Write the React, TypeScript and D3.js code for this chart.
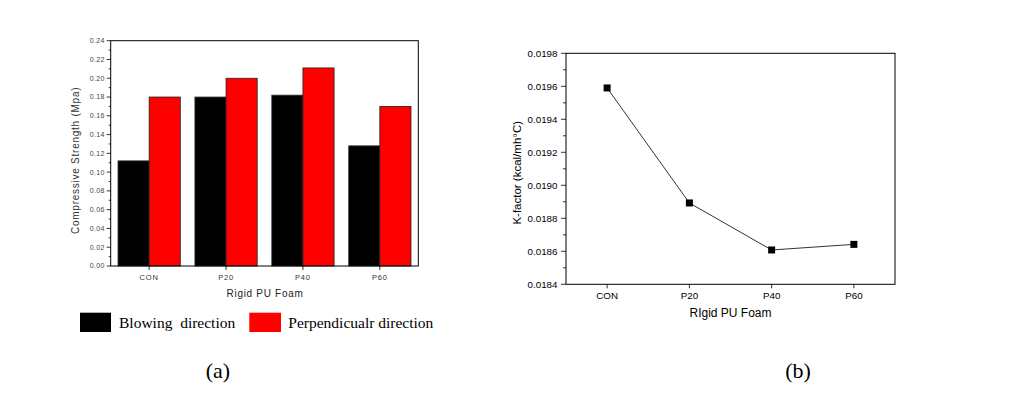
import React from "react";
import * as d3 from "d3";

const categories = ["CON", "P20", "P40", "P60"];
const blowing = [0.112, 0.18, 0.182, 0.128];
const perpendicular = [0.18, 0.2, 0.211, 0.17];
const barTicks = [0, 0.02, 0.04, 0.06, 0.08, 0.1, 0.12, 0.14, 0.16, 0.18, 0.2, 0.22, 0.24];
const kFactor = [0.01959, 0.018893, 0.018608, 0.018642];
const kTicks = [0.0184, 0.0186, 0.0188, 0.019, 0.0192, 0.0194, 0.0196, 0.0198];
const seriesNames = ["Blowing  direction", "Perpendicualr direction"];
const seriesColors = ["#000000", "#ff0000"];

export default function App() {
  // Left chart (a)
  const aL = 110.7, aR = 418.3, aT = 40.7, aB = 266;
  const xa = d3.scaleBand().domain(categories).range([aL, aR]).paddingInner(0.19).paddingOuter(0.095);
  const xs = d3.scaleBand().domain(["b", "p"]).range([0, xa.bandwidth()]);
  const ya = d3.scaleLinear().domain([0, 0.24]).range([aB, aT]);
  const minorA = d3.range(0, 0.2401, 0.01);

  // Right chart (b)
  const bL = 566, bR = 895, bT = 53.3, bB = 284.3;
  const xb = d3.scalePoint().domain(categories).range([bL, bR]).padding(0.5);
  const yb = d3.scaleLinear().domain([0.0184, 0.0198]).range([bB, bT]);
  const minorB = d3.range(0.0184, 0.01981, 0.0001);
  const line = d3.line<number>().x((_, i) => xb(categories[i])!).y((d) => yb(d));

  const sans = "'Liberation Sans', Arial, sans-serif";
  const serif = "'Liberation Serif', 'Times New Roman', serif";

  return (
    <svg width={1034} height={403} style={{ position: "absolute", left: 0, top: 0, background: "#fff" }}>
      {/* ---------- (a) ---------- */}
      <g>
        {categories.map((c, i) => (
          <g key={c}>
            <rect x={xa(c)!} y={ya(blowing[i])} width={xs.bandwidth()} height={aB - ya(blowing[i])}
              fill={seriesColors[0]} stroke="#333" strokeWidth={0.8} />
            <rect x={xa(c)! + xs("p")!} y={ya(perpendicular[i])} width={xs.bandwidth()} height={aB - ya(perpendicular[i])}
              fill={seriesColors[1]} stroke="#222" strokeWidth={0.8} />
          </g>
        ))}
        <rect x={aL} y={aT} width={aR - aL} height={aB - aT} fill="none" stroke="#000" strokeWidth={1} />
        {minorA.map((v, i) => (
          <line key={"ma" + i} x1={aL} x2={aL - (i % 2 === 0 ? 4 : 2)} y1={ya(v)} y2={ya(v)} stroke="#000" strokeWidth={0.8} />
        ))}
        {barTicks.map((v) => (
          <text key={"ta" + v} x={aL - 6} y={ya(v)} dy="0.35em" textAnchor="end" fontFamily={sans} fontSize={7} fill="#444" letterSpacing={0.3}>
            {v.toFixed(2)}
          </text>
        ))}
        {categories.map((c) => (
          <g key={"xa" + c}>
            <line x1={xa(c)! + xa.bandwidth() / 2} x2={xa(c)! + xa.bandwidth() / 2} y1={aB} y2={aB + 4} stroke="#000" strokeWidth={0.8} />
            <text x={xa(c)! + xa.bandwidth() / 2} y={aB + 11} dy="0.35em" textAnchor="middle" fontFamily={sans} fontSize={7.5} fill="#333" letterSpacing={0.8}>
              {c}
            </text>
          </g>
        ))}
        <text x={265} y={293} dy="0.35em" textAnchor="middle" fontFamily={sans} fontSize={10} fill="#222" letterSpacing={0.7}>
          Rigid PU Foam
        </text>
        <text transform={`translate(75,${(aT + aB) / 2 + 7}) rotate(-90)`} dy="0.35em" textAnchor="middle" fontFamily={sans} fontSize={10} fill="#333" letterSpacing={0.75}>
          Compressive Strength (Mpa)
        </text>
        {/* legend */}
        <rect x={80} y={312.7} width={31} height={19.3} fill={seriesColors[0]} />
        <text x={119} y={327.5} fontFamily={serif} fontSize={15.5} fill="#000" style={{ whiteSpace: "pre" }}>{seriesNames[0]}</text>
        <rect x={249.3} y={312.7} width={31.7} height={19.3} fill={seriesColors[1]} />
        <text x={288.3} y={327.5} fontFamily={serif} fontSize={15.5} fill="#000">{seriesNames[1]}</text>
        <text x={218} y={370} dy="0.35em" textAnchor="middle" fontFamily={serif} fontSize={22} fill="#000">(a)</text>
      </g>

      {/* ---------- (b) ---------- */}
      <g>
        <rect x={bL} y={bT} width={bR - bL} height={bB - bT} fill="none" stroke="#000" strokeWidth={1} />
        {minorB.map((v, i) => (
          <line key={"mb" + i} x1={bL} x2={bL - (i % 2 === 0 ? 5 : 3)} y1={yb(v)} y2={yb(v)} stroke="#000" strokeWidth={0.8} />
        ))}
        {kTicks.map((v) => (
          <text key={"tb" + v} x={bL - 8.5} y={yb(v)} dy="0.35em" textAnchor="end" fontFamily={sans} fontSize={9.8} fill="#000">
            {v.toFixed(4)}
          </text>
        ))}
        {categories.map((c) => (
          <g key={"xb" + c}>
            <line x1={xb(c)!} x2={xb(c)!} y1={bB} y2={bB + 4} stroke="#000" strokeWidth={0.8} />
            <text x={xb(c)!} y={bB + 11.5} dy="0.35em" textAnchor="middle" fontFamily={sans} fontSize={9.8} fill="#000">
              {c}
            </text>
          </g>
        ))}
        <path d={line(kFactor) || ""} fill="none" stroke="#333" strokeWidth={1} />
        {kFactor.map((v, i) => (
          <rect key={"pt" + i} x={xb(categories[i])! - 3.5} y={yb(v) - 3.5} width={7} height={7} fill="#000" />
        ))}
        <text x={730.5} y={313} dy="0.35em" textAnchor="middle" fontFamily={sans} fontSize={12} fill="#000">
          RIgid PU Foam
        </text>
        <text transform={`translate(516.5,${(bT + bB) / 2 + 4}) rotate(-90)`} dy="0.35em" textAnchor="middle" fontFamily={sans} fontSize={11.5} fill="#000">
          K-factor (kcal/mh°C)
        </text>
        <text x={798} y={370} dy="0.35em" textAnchor="middle" fontFamily={serif} fontSize={22} fill="#000">(b)</text>
      </g>
    </svg>
  );
}
